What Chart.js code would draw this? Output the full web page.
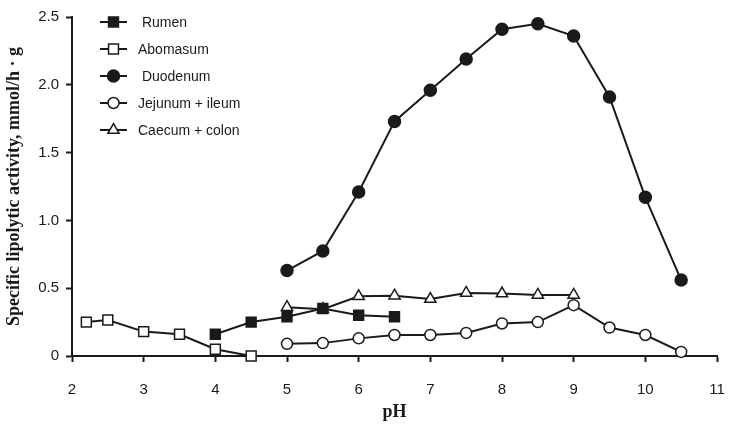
<!DOCTYPE html>
<html lang="en">

<head>
    <meta charset="UTF-8">
    <title>Specific lipolytic activity vs pH</title>
    <script src="https://cdn.jsdelivr.net/npm/chart.js"></script>
    <style>
        html, body { margin: 0; padding: 0; background: #fff; }
        #wrap { width: 729px; height: 431px; }
    </style>
</head>

<body>
    <div id="wrap">
        <canvas id="grafico" width="729" height="431"></canvas>
    </div>

    <script>
        // pH values and activities (mmol/h · g)
        const rumenPH = [4, 4.5, 5, 5.5, 6, 6.5];
        const rumen = [0.16, 0.25, 0.29, 0.35, 0.30, 0.29];

        const abomasumPH = [2.2, 2.5, 3, 3.5, 4, 4.5];
        const abomasum = [0.25, 0.265, 0.18, 0.16, 0.05, 0.0];

        const duodenumPH = [5, 5.5, 6, 6.5, 7, 7.5, 8, 8.5, 9, 9.5, 10, 10.5];
        const duodenum = [0.63, 0.775, 1.21, 1.73, 1.96, 2.19, 2.41, 2.45, 2.36, 1.91, 1.17, 0.56];

        const jejunumPH = [5, 5.5, 6, 6.5, 7, 7.5, 8, 8.5, 9, 9.5, 10, 10.5];
        const jejunum = [0.09, 0.095, 0.13, 0.155, 0.155, 0.17, 0.24, 0.25, 0.375, 0.21, 0.155, 0.03];

        const caecumPH = [5, 5.5, 6, 6.5, 7, 7.5, 8, 8.5, 9];
        const caecum = [0.36, 0.345, 0.44, 0.445, 0.42, 0.465, 0.46, 0.45, 0.45];

        const xTicks = [2, 3, 4, 5, 6, 7, 8, 9, 10, 11];
        const yTicks = [0, 0.5, 1.0, 1.5, 2.0, 2.5];

        const ink = '#1a1a1a';

        function pts(xs, ys) {
            return xs.map((x, i) => ({ x: x, y: ys[i] }));
        }

        function serie(label, xs, ys, style, filled, radius) {
            return {
                label: label,
                data: pts(xs, ys),
                borderColor: ink,
                borderWidth: 2,
                pointStyle: style,
                pointRadius: radius,
                pointHoverRadius: radius,
                pointBackgroundColor: filled ? ink : '#fff',
                pointBorderColor: ink,
                pointBorderWidth: 1.5,
                tension: 0,
                clip: false
            };
        }

        // legend drawn inside the plot, top-left, like the original figure
        const legendaInterna = {
            id: 'legendaInterna',
            afterDatasetsDraw(chart) {
                const ctx = chart.ctx;
                const yStart = 22, gap = 27;
                ctx.save();
                chart.data.datasets.forEach((ds, i) => {
                    const y = yStart + i * gap;
                    ctx.strokeStyle = ink;
                    ctx.lineWidth = 2;
                    ctx.beginPath();
                    ctx.moveTo(100, y);
                    ctx.lineTo(127, y);
                    ctx.stroke();
                    ctx.fillStyle = ds.pointBackgroundColor;
                    ctx.strokeStyle = ink;
                    ctx.lineWidth = 1.5;
                    Chart.helpers.drawPoint(ctx, {
                        pointStyle: ds.pointStyle,
                        radius: ds.pointRadius,
                        borderWidth: 1.5,
                        rotation: 0
                    }, 113.5, y);
                    ctx.fillStyle = ink;
                    ctx.font = '14px "Liberation Sans", Arial, sans-serif';
                    ctx.textAlign = 'left';
                    ctx.textBaseline = 'middle';
                    ctx.fillText(ds.label, 138, y + 1);
                });
                ctx.restore();
            }
        };

        const ctx = document.getElementById('grafico').getContext('2d');
        new Chart(ctx, {
            type: 'line',
            data: {
                datasets: [
                    serie(' Rumen', rumenPH, rumen, 'rect', true, 7),
                    serie('Abomasum', abomasumPH, abomasum, 'rect', false, 7),
                    serie(' Duodenum', duodenumPH, duodenum, 'circle', true, 6),
                    serie('Jejunum + ileum', jejunumPH, jejunum, 'circle', false, 5.5),
                    serie('Caecum + colon', caecumPH, caecum, 'triangle', false, 6.5)
                ]
            },
            options: {
                responsive: false,
                animation: false,
                layout: { padding: { top: 17, right: 12, left: 0, bottom: 0 } },
                plugins: {
                    legend: { display: false },
                    tooltip: { enabled: false }
                },
                scales: {
                    x: {
                        type: 'linear',
                        min: xTicks[0],
                        max: xTicks[xTicks.length - 1],
                        afterBuildTicks: s => { s.ticks = xTicks.map(v => ({ value: v })); },
                        afterFit: s => { s.height = 75; s.paddingLeft = 0; s.paddingRight = 0; },
                        border: { color: ink, width: 2 },
                        grid: { drawOnChartArea: false, tickLength: 6, tickColor: ink, tickWidth: 2 },
                        ticks: {
                            color: ink,
                            padding: 19,
                            maxRotation: 0,
                            font: { family: '"Liberation Sans", Arial, sans-serif', size: 15 }
                        },
                        title: {
                            display: true,
                            text: 'pH',
                            color: ink,
                            padding: { top: 0, bottom: 8 },
                            font: { family: '"Liberation Serif", "Times New Roman", serif', size: 18, weight: 'bold' }
                        }
                    },
                    y: {
                        min: yTicks[0],
                        max: yTicks[yTicks.length - 1],
                        afterBuildTicks: s => { s.ticks = yTicks.map(v => ({ value: v })); },
                        afterFit: s => { s.width = 72; s.paddingTop = 0; s.paddingBottom = 0; },
                        border: { color: ink, width: 2 },
                        grid: { drawOnChartArea: false, tickLength: 6, tickColor: ink, tickWidth: 2 },
                        ticks: {
                            color: ink,
                            padding: 7,
                            callback: v => v === 0 ? '0' : v.toFixed(1),
                            font: { family: '"Liberation Sans", Arial, sans-serif', size: 15 }
                        },
                        title: {
                            display: true,
                            text: 'Specific lipolytic activity, mmol/h · g',
                            color: ink,
                            padding: { top: 4, bottom: 0 },
                            font: { family: '"Liberation Serif", "Times New Roman", serif', size: 18, weight: 'bold' }
                        }
                    }
                }
            },
            plugins: [legendaInterna]
        });
    </script>
</body>

</html>
